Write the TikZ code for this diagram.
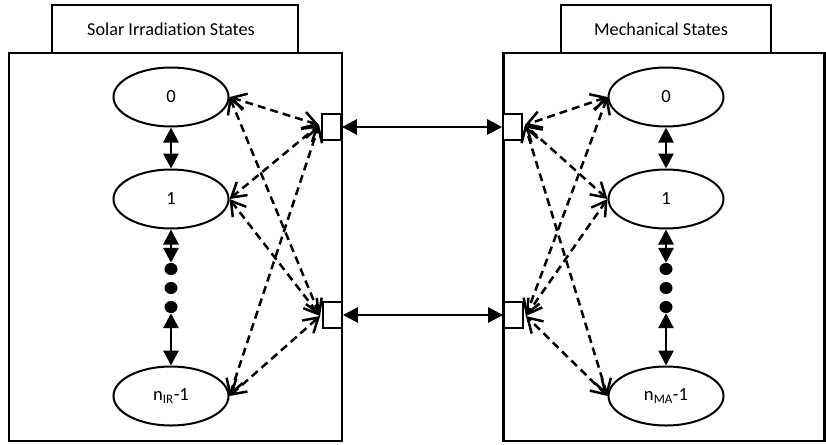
\documentclass[tikz,border=0pt]{standalone}
\usepackage{fontspec}
\setmainfont{Carlito}[Ligatures=NoCommon]
\usetikzlibrary{shapes.geometric,arrows.meta}
\tikzset{
  frame/.style={draw, line width=2.2pt, minimum width=#1, minimum height=388pt, inner sep=0pt},
  titlebox/.style={draw, line width=2pt, minimum width=#1, minimum height=48pt, inner sep=0pt, font=\fontsize{18.2pt}{22pt}\selectfont},
  state/.style={draw, ellipse, line width=2pt, minimum width=115pt, minimum height=59pt, inner sep=0pt, font=\fontsize{18.6pt}{22pt}\selectfont},
  dot/.style={fill=black, ellipse, minimum width=13pt, minimum height=12pt, inner sep=0pt},
  port/.style={draw, fill=white, line width=1.8pt, minimum width=19pt, minimum height=26pt, inner sep=0pt},
  solid arrow/.style={line width=2.8pt, {Triangle[length=15pt,width=15pt]}-{Triangle[length=15pt,width=15pt]}},
  dash arrow/.style={line width=2.5pt, dash pattern=on 8pt off 5pt, {Straight Barb[length=14pt,width=17pt]}-{Straight Barb[length=14pt,width=17pt]}}
}
\begin{document}
\begin{tikzpicture}[x=1pt,y=-1pt]
\useasboundingbox (0,0) rectangle (826,444);
% frames
\node[frame=333pt] (fl) at (175.5,247) {};
\node[frame=321pt] (fr) at (664,247) {};
\node[titlebox=246pt] (tl) at (175,29) {\hspace*{-8pt}Solar Irradiation States};
\node[titlebox=210pt] (tr) at (666,29) {\hspace*{-10pt}Mechanical States};
% left states
\node[state] (l0) at (171,97) {0};
\node[state] (l1) at (171,199) {1};
\node[state] (ln) at (171,396) {n\textsubscript{IR}-1};
\node[dot] (ld1) at (171,269) {};
\node[dot] (ld2) at (171,288) {};
\node[dot] (ld3) at (171,307) {};
% right states
\node[state] (r0) at (666,97) {0};
\node[state] (r1) at (666,199) {1};
\node[state] (rn) at (666,396) {n\textsubscript{MA}-1};
\node[dot] (rd1) at (666,269) {};
\node[dot] (rd2) at (666,288) {};
\node[dot] (rd3) at (666,307) {};
% ports
\node[port] (pa) at (331.5,127) {};
\node[port] (pb) at (332.5,315) {};
\node[port] (pc) at (512.5,127) {};
\node[port] (pd) at (513.5,315) {};
% vertical solid arrows
\draw[solid arrow] (l0) -- (l1);
\draw[solid arrow] (l1) -- (ld1);
\draw[solid arrow] (ld3) -- (ln);
\draw[solid arrow] (r0) -- (r1);
\draw[solid arrow] (r1) -- (rd1);
\draw[solid arrow] (rd3) -- (rn);
% horizontal solid arrows
\draw[solid arrow] (pa.east) -- (pc.west);
\draw[solid arrow] (pb.east) -- (pd.west);
% dashed arrows left
\foreach \s in {l0,l1,ln}{
  \draw[dash arrow] (\s.east) -- ([xshift=-2pt,yshift=2pt]pa.west);
  \draw[dash arrow] (\s.east) -- ([xshift=-2pt,yshift=-1pt]pb.west);
}
% dashed arrows right
\foreach \s in {r0,r1,rn}{
  \draw[dash arrow] (\s.west) -- ([xshift=2pt,yshift=2pt]pc.east);
  \draw[dash arrow] (\s.west) -- ([xshift=2pt,yshift=-1pt]pd.east);
}
\end{tikzpicture}
\end{document}
